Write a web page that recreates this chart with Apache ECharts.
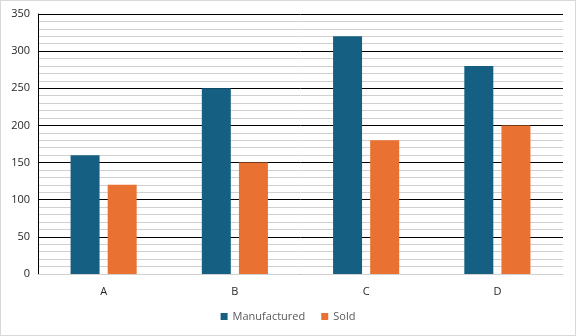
<!DOCTYPE html>
<html><head><meta charset="utf-8">
<script src="https://cdn.jsdelivr.net/npm/echarts@6/dist/echarts.min.js"></script>
<style>html,body{margin:0;padding:0;background:#fff}#c{width:576px;height:336px;box-sizing:border-box;border:1px solid #d9d9d9}</style>
</head><body><div id="c"></div>
<script>
const categories = ['A', 'B', 'C', 'D'];
const manufactured = [160, 250, 320, 280];
const sold = [120, 150, 180, 200];
const seriesNames = ['Manufactured', 'Sold'];

const chart = echarts.init(document.getElementById('c'));
chart.setOption({
  animation: false,
  textStyle: { fontFamily: 'Open Sans, sans-serif' },
  grid: { left: 37, right: 12, top: 13, bottom: 61 },
  legend: {
    bottom: 8, left: 'center', itemWidth: 7, itemHeight: 7, itemGap: 16,
    icon: 'rect',
    textStyle: { color: '#595959', fontSize: 11, fontFamily: 'Open Sans, sans-serif' },
    data: seriesNames
  },
  xAxis: {
    type: 'category', data: categories,
    axisLine: { lineStyle: { color: '#d0d0d0' } },
    axisTick: { show: false },
    axisLabel: { color: '#262626', fontSize: 11, margin: 12 }
  },
  yAxis: {
    type: 'value', min: 0, max: 350, interval: 50,
    axisLine: { show: true, lineStyle: { color: '#000' } },
    axisTick: { show: false },
    axisLabel: { color: '#262626', fontSize: 11, margin: 8 },
    splitLine: { lineStyle: { color: '#000', width: 1 } },
    minorTick: { show: false, splitNumber: 5 },
    minorSplitLine: { show: true, lineStyle: { color: '#d0d0d0', width: 1 } }
  },
  series: [
    { name: seriesNames[0], type: 'bar', data: manufactured, barWidth: 29, barGap: '28%', itemStyle: { color: '#156082' } },
    { name: seriesNames[1], type: 'bar', data: sold, barWidth: 29, itemStyle: { color: '#E97132' } }
  ]
});
</script></body></html>
